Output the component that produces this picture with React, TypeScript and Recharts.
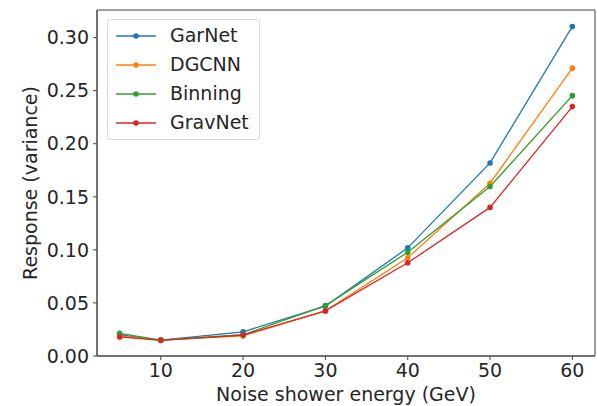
import React from 'react';
import { LineChart, Line, XAxis, YAxis, ReferenceArea } from 'recharts';

const energies = [5, 10, 20, 30, 40, 50, 60];
const garnet = [0.020, 0.015, 0.0228, 0.047, 0.1019, 0.1819, 0.3105];
const dgcnn = [0.019, 0.015, 0.019, 0.0425, 0.0925, 0.1628, 0.2712];
const binning = [0.0213, 0.015, 0.020, 0.0475, 0.0978, 0.1597, 0.2453];
const gravnet = [0.018, 0.0147, 0.0197, 0.0425, 0.0878, 0.140, 0.235];

const xTicks = [10, 20, 30, 40, 50, 60];
const yTicks = [0, 0.05, 0.1, 0.15, 0.2, 0.25, 0.3];

const seriesNames = ['GarNet', 'DGCNN', 'Binning', 'GravNet'];
const seriesColors = ['#1f77b4', '#ff7f0e', '#2ca02c', '#d62728'];
const seriesValues = [garnet, dgcnn, binning, gravnet];

const data = energies.map((e, i) => {
  const row: Record<string, number> = { e };
  seriesNames.forEach((n, k) => {
    row[n] = seriesValues[k][i];
  });
  return row;
});

const FONT = 'DejaVu Sans';
const FS = 19;
const TEXT = '#262626';
const AXIS = '#444444';

const LegendBox = () => (
  <div
    style={{
      position: 'absolute',
      left: 107,
      top: 19,
      width: 153,
      height: 121,
      boxSizing: 'border-box',
      background: 'rgba(255,255,255,0.85)',
      border: '1px solid #d9d9d9',
      borderRadius: 3,
      paddingTop: 1,
    }}
  >
    {seriesNames.map((n, k) => (
      <div key={n} style={{ display: 'flex', alignItems: 'center', height: 29 }}>
        <svg width={62} height={12} style={{ flex: 'none' }}>
          <line x1={8} y1={6} x2={48} y2={6} stroke={seriesColors[k]} strokeWidth={1.3} />
          <circle cx={28} cy={6} r={2.8} fill={seriesColors[k]} />
        </svg>
        <span style={{ fontFamily: FONT, fontSize: FS, color: TEXT, lineHeight: '29px' }}>{n}</span>
      </div>
    ))}
  </div>
);

const YLabel = (props: any) => {
  const vb = props.viewBox || {};
  const cy = (vb.y ?? 0) + (vb.height ?? 0) / 2;
  return (
    <text
      x={37}
      y={cy}
      transform={`rotate(-90, 37, ${cy})`}
      textAnchor="middle"
      fill={TEXT}
      fontFamily={FONT}
      fontSize={FS}
    >
      Response (variance)
    </text>
  );
};

const XLabel = (props: any) => {
  const vb = props.viewBox || {};
  const cx = (vb.x ?? 0) + (vb.width ?? 0) / 2;
  return (
    <text x={cx} y={401} textAnchor="middle" fill={TEXT} fontFamily={FONT} fontSize={FS}>
      Noise shower energy (GeV)
    </text>
  );
};

export default function App() {
  return (
    <div style={{ position: 'absolute', left: 0, top: 0, width: 597, height: 406, background: '#fff' }}>
      <LineChart
        width={597}
        height={406}
        data={data}
        margin={{ top: 10, right: 2, bottom: 0, left: 0 }}
      >
        <XAxis
          dataKey="e"
          type="number"
          domain={[2.25, 62.75]}
          ticks={xTicks}
          allowDataOverflow
          height={50}
          stroke={AXIS}
          tickSize={4}
          tickMargin={4}
          tick={{ fill: TEXT, fontFamily: FONT, fontSize: FS }}
          label={<XLabel />}
        />
        <YAxis
          type="number"
          domain={[0, 0.326]}
          ticks={yTicks}
          allowDataOverflow
          width={97}
          stroke={AXIS}
          tickSize={4}
          tickMargin={4}
          tickFormatter={(v: number) => v.toFixed(2)}
          tick={{ fill: TEXT, fontFamily: FONT, fontSize: FS }}
          label={<YLabel />}
        />
        <ReferenceArea
          x1={2.25}
          x2={62.75}
          y1={0}
          y2={0.326}
          fill="none"
          stroke={AXIS}
          strokeWidth={1}
          ifOverflow="visible"
        />
        {seriesNames.map((n, k) => (
          <Line
            key={n}
            dataKey={n}
            type="linear"
            stroke={seriesColors[k]}
            strokeWidth={1.3}
            dot={{ r: 2.8, fill: seriesColors[k], stroke: seriesColors[k], strokeWidth: 0 }}
            activeDot={false}
            isAnimationActive={false}
          />
        ))}
      </LineChart>
      <LegendBox />
    </div>
  );
}
